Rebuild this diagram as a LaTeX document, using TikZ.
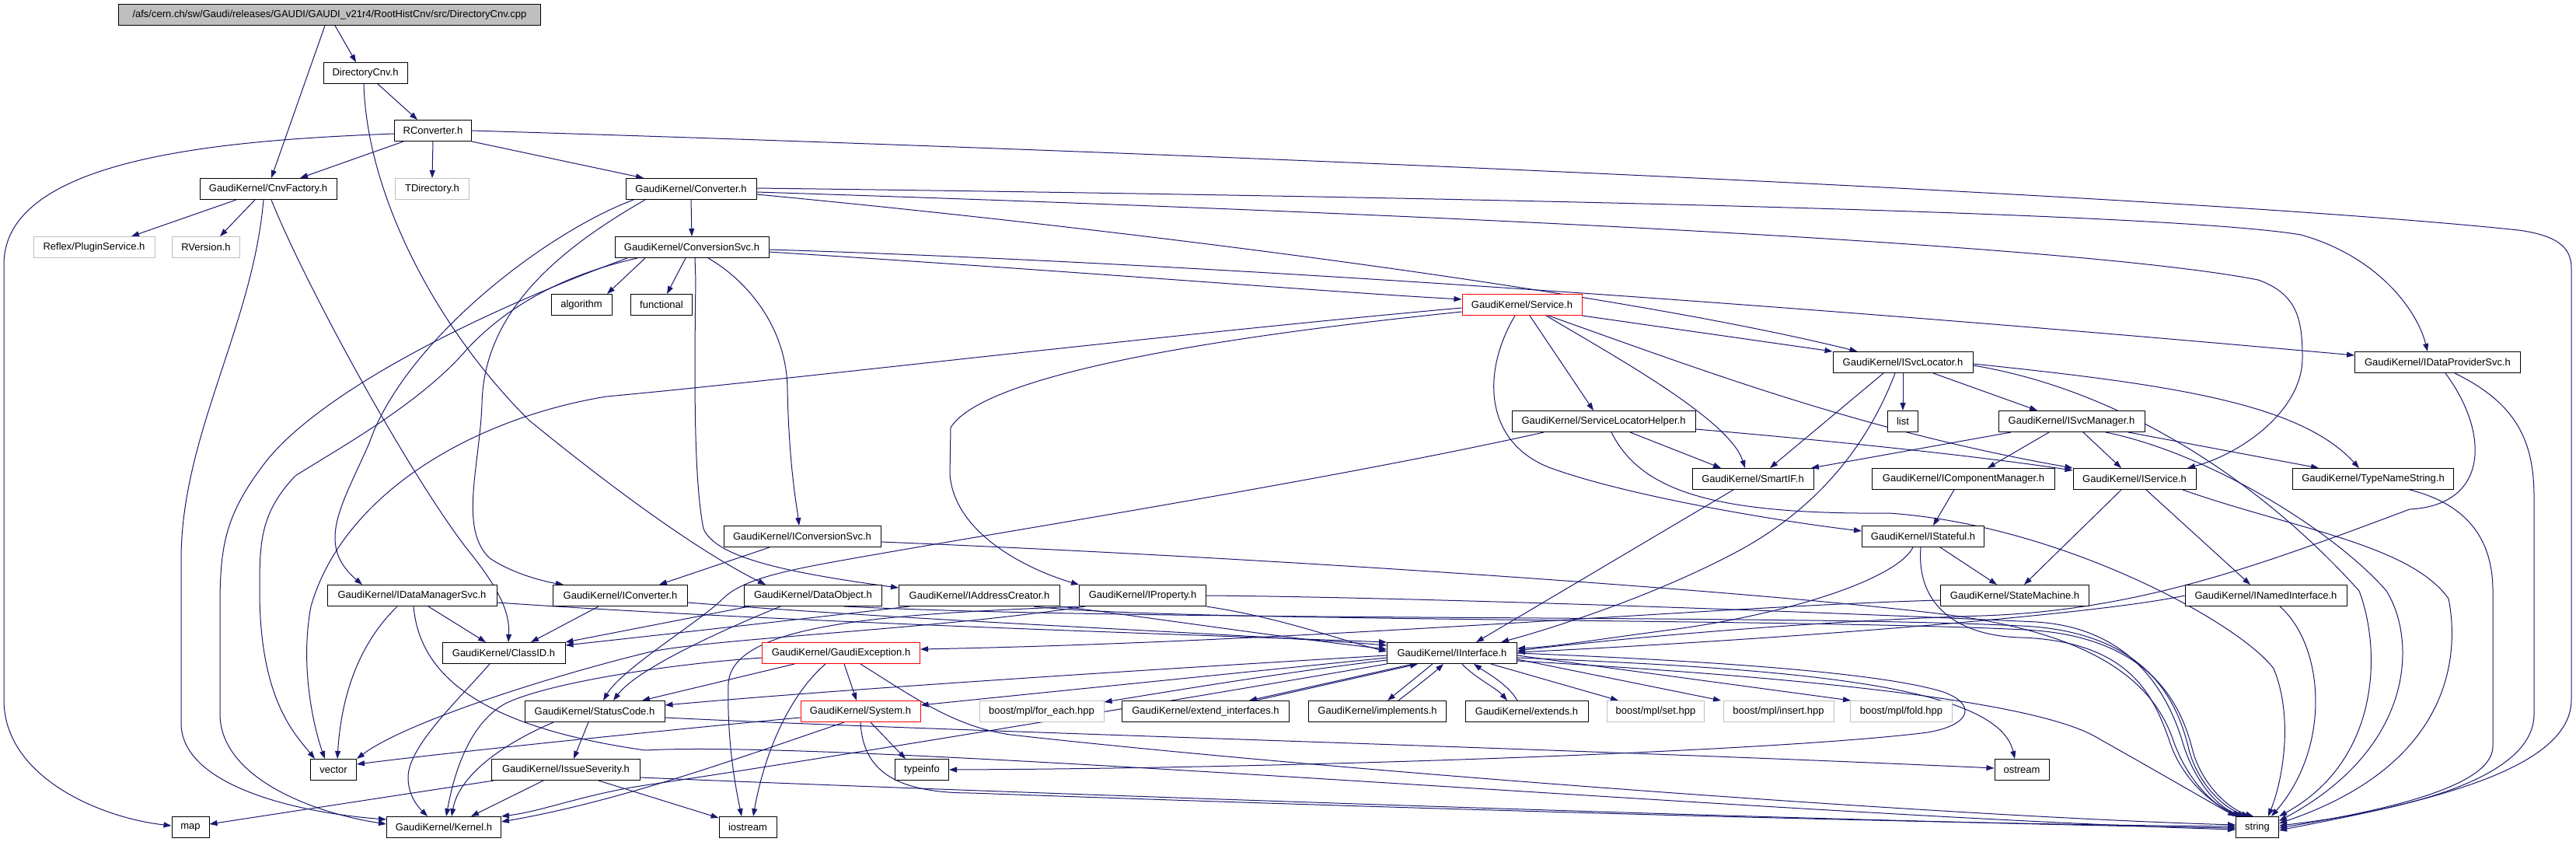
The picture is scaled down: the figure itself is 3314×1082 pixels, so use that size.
\documentclass[tikz,border=0pt]{standalone}
\usepackage{fontspec}
\setmainfont{Liberation Sans}
\usetikzlibrary{arrows.meta}
\definecolor{edgeblue}{HTML}{191970}
\definecolor{boxgray}{HTML}{BFBFBF}
\pgfdeclarelayer{bg}
\pgfsetlayers{bg,main}
\begin{document}
\begin{tikzpicture}[x=1pt,y=-1pt,
  nd/.style={draw=black, fill=white, line width=1pt, minimum height=27pt, inner xsep=2pt, inner ysep=0pt, font=\fontsize{13}{15}\selectfont},
  gnd/.style={nd, draw=boxgray},
  rnd/.style={nd, draw=red},
  dep/.style={draw=edgeblue, line width=1pt, -{Triangle[length=10pt,width=7pt]}}]
\begin{pgfonlayer}{bg}
\fill[white] (0,0) rectangle (3314,1082);
\end{pgfonlayer}
\useasboundingbox (0,0) rectangle (3314,1082);
% nodes
\node[nd, fill=boxgray, minimum width=543pt] (root) at (424,19) {/afs/cern.ch/sw/Gaudi/releases/GAUDI/GAUDI\_v21r4/RootHistCnv/src/DirectoryCnv.cpp};
\node[nd, minimum width=108pt] (dircnv) at (470,94) {DirectoryCnv.h};
\node[nd, minimum width=99pt] (rconv) at (557,168) {RConverter.h};
\node[nd, minimum width=176pt] (cnvfac) at (345,243) {GaudiKernel/CnvFactory.h};
\node[gnd, minimum width=95pt] (tdir) at (556,243) {TDirectory.h};
\node[gnd, minimum width=156pt] (reflex) at (121,318) {Reflex/PluginService.h};
\node[gnd, minimum width=87pt] (rversion) at (265,318) {RVersion.h};
\node[nd, minimum width=168pt] (conv) at (889,243) {GaudiKernel/Converter.h};
\node[nd, minimum width=198pt] (convsvc) at (890,318) {GaudiKernel/ConversionSvc.h};
\node[nd, minimum width=78pt] (algorithm) at (748,392) {algorithm};
\node[nd, minimum width=79pt] (functional) at (851,392) {functional};
\node[rnd, minimum width=154pt] (service) at (1958,392) {GaudiKernel/Service.h};
\node[nd, minimum width=180pt] (isvcloc) at (2448,466) {GaudiKernel/ISvcLocator.h};
\node[nd, minimum width=213pt] (idps) at (3136,466) {GaudiKernel/IDataProviderSvc.h};
\node[nd, minimum width=236pt] (slh) at (2063,542) {GaudiKernel/ServiceLocatorHelper.h};
\node[nd, minimum width=39pt] (list) at (2448,542) {list};
\node[nd, minimum width=188pt] (isvcmgr) at (2665,542) {GaudiKernel/ISvcManager.h};
\node[nd, minimum width=156pt] (smartif) at (2255,616) {GaudiKernel/SmartIF.h};
\node[nd, minimum width=235pt] (icompmgr) at (2526,616) {GaudiKernel/IComponentManager.h};
\node[nd, minimum width=158pt] (iservice) at (2746,616) {GaudiKernel/IService.h};
\node[nd, minimum width=207pt] (tns) at (3053,616) {GaudiKernel/TypeNameString.h};
\node[nd, minimum width=202pt] (iconvsvc) at (1032,690) {GaudiKernel/IConversionSvc.h};
\node[nd, minimum width=157pt] (istateful) at (2474,690) {GaudiKernel/IStateful.h};
\node[nd, minimum width=218pt] (idms) at (530,766) {GaudiKernel/IDataManagerSvc.h};
\node[nd, minimum width=173pt] (iconverter) at (798,766) {GaudiKernel/IConverter.h};
\node[nd, minimum width=177pt] (dataobj) at (1046,766) {GaudiKernel/DataObject.h};
\node[nd, minimum width=207pt] (iaddr) at (1260,766) {GaudiKernel/IAddressCreator.h};
\node[nd, minimum width=163pt] (iprop) at (1470,766) {GaudiKernel/IProperty.h};
\node[nd, minimum width=191pt] (statemach) at (2592,766) {GaudiKernel/StateMachine.h};
\node[nd, minimum width=208pt] (inamed) at (2915,766) {GaudiKernel/INamedInterface.h};
\node[nd, minimum width=158pt] (classid) at (648,840) {GaudiKernel/ClassID.h};
\node[rnd, minimum width=203pt] (gexc) at (1082,840) {GaudiKernel/GaudiException.h};
\node[nd, minimum width=167pt] (iinterface) at (1868,840) {GaudiKernel/IInterface.h};
\node[nd, minimum width=180pt] (statuscode) at (765,915) {GaudiKernel/StatusCode.h};
\node[rnd, minimum width=154pt] (system) at (1107,915) {GaudiKernel/System.h};
\node[gnd, minimum width=160pt] (foreach) at (1340,915) {boost/mpl/for\_each.hpp};
\node[nd, minimum width=215pt] (extif) at (1551,915) {GaudiKernel/extend\_interfaces.h};
\node[nd, minimum width=177pt] (implements) at (1772,915) {GaudiKernel/implements.h};
\node[nd, minimum width=158pt] (extends) at (1964,915) {GaudiKernel/extends.h};
\node[gnd, minimum width=125pt] (mplset) at (2130,915) {boost/mpl/set.hpp};
\node[gnd, minimum width=142pt] (mplinsert) at (2288,915) {boost/mpl/insert.hpp};
\node[gnd, minimum width=131pt] (mplfold) at (2446,915) {boost/mpl/fold.hpp};
\node[nd, minimum width=59pt] (vector) at (429,990) {vector};
\node[nd, minimum width=191pt] (issue) at (728,990) {GaudiKernel/IssueSeverity.h};
\node[nd, minimum width=69pt] (typeinfo) at (1186,990) {typeinfo};
\node[nd, minimum width=70pt] (ostream) at (2601,990) {ostream};
\node[nd, minimum width=48pt] (map) at (245,1064) {map};
\node[nd, minimum width=147pt] (kernel) at (571,1064) {GaudiKernel/Kernel.h};
\node[nd, minimum width=74pt] (iostream) at (962,1064) {iostream};
\node[nd, minimum width=55pt] (string) at (2904,1064) {string};
% edges
\begin{pgfonlayer}{bg}
\draw[dep] ([xshift=7pt]root.south) -- ([xshift=-12pt]dircnv.north);
\draw[dep] ([xshift=-6pt]root.south) -- ([xshift=4pt]cnvfac.north);
\draw[dep] ([xshift=16pt]dircnv.south) -- ([xshift=-20pt]rconv.north);
\draw[dep] ([xshift=-2pt]dircnv.south) .. controls (472,250) and (560,420) .. (680,540) .. controls (790,630) and (900,710) .. ([xshift=-61pt]dataobj.north);
\draw[dep] ([xshift=-38pt]rconv.south) -- ([xshift=41pt]cnvfac.north);
\draw[dep] (rconv.south) -- (tdir.north);
\draw[dep] (rconv.south east) -- ([xshift=-61pt]conv.north);
\draw[dep] ([yshift=-4pt]rconv.west) .. controls (300,180) and (5,200) .. (5,340) -- (5,900) .. controls (5,1000) and (130,1052) .. ([yshift=2pt]map.west);
\draw[dep] (rconv.east) .. controls (1500,195) and (2800,250) .. (3240,296) .. controls (3290,303) and (3308,318) .. (3308,345) -- (3308,900) .. controls (3308,995) and (3100,1035) .. ([yshift=-4pt]string.east);
\draw[dep] ([xshift=-41pt]cnvfac.south) -- ([xshift=48pt]reflex.north);
\draw[dep] ([xshift=-17pt]cnvfac.south) -- ([xshift=18pt]rversion.north);
\draw[dep] ([xshift=-6pt]cnvfac.south) .. controls (325,420) and (233,560) .. (233,720) -- (233,930) .. controls (233,1010) and (380,1045) .. ([yshift=10pt]kernel.west);
\draw[dep] ([xshift=4pt]cnvfac.south) .. controls (390,360) and (520,600) .. (600,705) .. controls (645,760) and (656,790) .. ([xshift=6pt]classid.north);
\draw[dep] (conv.south) -- (convsvc.north);
\draw[dep] ([xshift=-74pt]conv.south) .. controls (700,300) and (520,440) .. (475,570) .. controls (440,650) and (405,700) .. ([xshift=-64pt]idms.north);
\draw[dep] ([xshift=-59pt]conv.south) .. controls (720,320) and (622,400) .. (620,520) .. controls (617,600) and (590,680) .. (630,718) .. controls (660,738) and (700,748) .. ([xshift=-73pt]iconverter.north);
\draw[dep] ([yshift=1pt]conv.east) .. controls (2000,255) and (2800,275) .. (2960,302) .. controls (3060,330) and (3110,400) .. ([xshift=-13pt]idps.north);
\draw[dep] ([yshift=-4pt]conv.east) .. controls (2000,280) and (2700,320) .. (2905,360) .. controls (2955,378) and (2962,410) .. (2962,460) .. controls (2962,530) and (2880,585) .. ([xshift=68pt]iservice.north);
\draw[dep] ([yshift=-7pt]conv.east) .. controls (1500,300) and (2100,380) .. ([xshift=32pt]isvcloc.north west);
\draw[dep] ([xshift=-60pt]convsvc.south) -- ([xshift=33pt]algorithm.north);
\draw[dep] ([xshift=-8pt]convsvc.south) -- ([xshift=7pt]functional.north);
\draw[dep] ([xshift=21pt]convsvc.south) .. controls (960,360) and (1012,420) .. (1013,500) .. controls (1015,600) and (1025,650) .. ([xshift=-4pt]iconvsvc.north);
\draw[dep] ([xshift=4pt]convsvc.south) -- (895,360) .. controls (893,500) and (893,620) .. (905,680) .. controls (920,715) and (1000,735) .. ([yshift=10pt]iaddr.west);
\draw[dep] ([xshift=-70pt]convsvc.south) .. controls (740,350) and (660,385) .. (600,450) .. controls (540,520) and (430,580) .. (380,612) .. controls (334,660) and (334,700) .. (334,760) .. controls (334,900) and (380,945) .. ([xshift=-24pt]vector.north);
\draw[dep] ([xshift=-83pt]convsvc.south) .. controls (620,400) and (420,500) .. (345,590) .. controls (290,660) and (283,700) .. (283,780) -- (283,920) .. controls (285,1000) and (400,1045) .. ([yshift=4pt]kernel.west);
\draw[dep] ([yshift=-6pt]convsvc.east) .. controls (1400,350) and (1700,375) .. ([yshift=7pt]service.west);
\draw[dep] ([yshift=-3pt]convsvc.east) .. controls (1600,340) and (2400,400) .. ([yshift=9pt]idps.west);
\draw[dep] ([yshift=-4pt]service.west) .. controls (1500,430) and (1000,490) .. (780,510) .. controls (600,540) and (440,640) .. (400,780) .. controls (385,860) and (405,940) .. ([xshift=-11pt]vector.north);
\draw[dep] ([yshift=-9pt]service.west) .. controls (1500,440) and (1260,490) .. (1223,550) -- (1222,610) .. controls (1228,690) and (1330,735) .. (iprop.north west);
\draw[dep] ([xshift=10pt]service.south) -- ([xshift=-13pt]slh.north);
\draw[dep] ([xshift=31pt]service.south) .. controls (2080,460) and (2225,540) .. ([xshift=-10pt]smartif.north);
\draw[dep] ([xshift=34pt]service.south) .. controls (2200,480) and (2400,555) .. (iservice.north west);
\draw[dep] (service.south east) -- (isvcloc.north west);
\draw[dep] ([xshift=-9pt]service.south) .. controls (1905,480) and (1910,570) .. (1995,602) .. controls (2100,640) and (2300,672) .. ([yshift=7pt]istateful.west);
\draw[dep] ([xshift=34pt]slh.south) -- ([xshift=-41pt]smartif.north);
\draw[dep] ([yshift=-10pt]slh.east) .. controls (2450,575) and (2600,595) .. ([yshift=-3pt]iservice.north west);
\draw[dep] ([xshift=-77pt]slh.south) .. controls (1700,620) and (1250,690) .. (1060,725) .. controls (990,738) and (950,750) .. (930,770) .. controls (900,800) and (800,860) .. ([xshift=11pt]statuscode.north);
\draw[dep] ([xshift=10pt]slh.south) .. controls (2110,630) and (2200,662) .. (2430,660) .. controls (2650,675) and (2880,800) .. (2925,860) .. controls (2950,920) and (2938,1000) .. ([xshift=14pt]string.north);
\draw[dep] ([xshift=-25pt]isvcloc.south) -- ([xshift=22pt]smartif.north);
\draw[dep] ([xshift=-10pt]isvcloc.south) .. controls (2400,580) and (2330,660) .. (2230,712) .. controls (2120,770) and (1990,810) .. ([xshift=63pt]iinterface.north);
\draw[dep] (isvcloc.south) -- (list.north);
\draw[dep] ([xshift=39pt]isvcloc.south) -- ([xshift=-44pt]isvcmgr.north);
\draw[dep] ([yshift=-4pt]isvcloc.east) .. controls (2720,500) and (2900,610) .. (3035,760) .. controls (3065,840) and (3060,980) .. (string.north east);
\draw[dep] ([yshift=-2pt]isvcloc.east) .. controls (2800,495) and (2960,520) .. ([xshift=-18pt]tns.north);
\draw[dep] ([xshift=-78pt]isvcmgr.south) -- ([xshift=75pt]smartif.north);
\draw[dep] ([xshift=-29pt]isvcmgr.south) -- ([xshift=31pt]icompmgr.north);
\draw[dep] ([xshift=15pt]isvcmgr.south) -- ([xshift=-17pt]iservice.north);
\draw[dep] ([xshift=73pt]isvcmgr.south) -- ([xshift=-70pt]tns.north);
\draw[dep] ([xshift=44pt]isvcmgr.south) .. controls (2850,585) and (3010,690) .. (3070,760) .. controls (3108,820) and (3110,960) .. ([yshift=8pt]string.east);
\draw[dep] ([xshift=62pt]iservice.south) .. controls (2950,680) and (3100,700) .. (3150,770) .. controls (3162,830) and (3165,980) .. ([yshift=5pt]string.east);
\draw[dep] ([xshift=47pt]tns.south) .. controls (3180,650) and (3207,700) .. (3207,760) -- (3207,960) .. controls (3207,1015) and (3050,1045) .. ([yshift=-1pt]string.east);
\draw[dep] ([xshift=10pt]idps.south) .. controls (3205,560) and (3200,650) .. (3100,655) .. controls (2900,730) and (2750,785) .. (2550,792) .. controls (2300,800) and (2050,825) .. ([yshift=3pt]iinterface.east);
\draw[dep] ([xshift=22pt]idps.south) .. controls (3240,520) and (3260,570) .. (3260,640) -- (3260,920) .. controls (3258,1000) and (3100,1042) .. ([yshift=2pt]string.east);
\draw[dep] ([xshift=22pt]istateful.south) -- ([xshift=-23pt]statemach.north);
\draw[dep] ([xshift=-13pt]istateful.south) .. controls (2440,745) and (2300,790) .. (2150,810) .. controls (2050,823) and (2000,832) .. ([yshift=6pt]iinterface.east);
\draw[dep] ([xshift=-3pt]istateful.south) .. controls (2465,780) and (2520,818) .. (2600,820) .. controls (2740,825) and (2770,895) .. (2790,950) .. controls (2805,1000) and (2845,1035) .. ([xshift=-20pt]string.north);
\draw[dep] ([xshift=-12pt]icompmgr.south) -- ([xshift=13pt]istateful.north);
\draw[dep] ([xshift=-17pt]iservice.south) -- ([xshift=12pt]statemach.north);
\draw[dep] ([xshift=15pt]iservice.south) -- ([xshift=-20pt]inamed.north);
\draw[dep] ([yshift=-6pt]statemach.west) .. controls (2200,780) and (1700,825) .. ([yshift=5pt]gexc.east);
\draw[dep] (inamed.west) .. controls (2700,790) and (2300,822) .. ([yshift=1pt]iinterface.east);
\draw[dep] ([xshift=18pt]inamed.south) .. controls (2990,830) and (3000,960) .. ([xshift=18pt]string.north);
\draw[dep] ([yshift=-3pt]iinterface.west) .. controls (1500,860) and (1100,885) .. ([yshift=8pt]statuscode.east);
\draw[dep] ([yshift=-6pt]iinterface.west) .. controls (1550,870) and (1300,895) .. ([yshift=8pt]system.east);
\draw[dep] ([yshift=-9pt]iinterface.west) .. controls (1650,865) and (1500,890) .. ([yshift=12pt]foreach.east);
\draw[dep] ([xshift=-50pt]iinterface.south) -- ([xshift=56pt]extif.north);
\draw[dep] ([xshift=64pt]extif.north) -- ([xshift=-44pt]iinterface.south);
\draw[dep] ([xshift=-25pt]iinterface.south) -- ([xshift=13pt]implements.north);
\draw[dep] ([xshift=27pt]implements.north) .. controls (1820,885) and (1845,865) .. ([xshift=-11pt]iinterface.south);
\draw[dep] ([xshift=13pt]iinterface.south) .. controls (1895,870) and (1925,885) .. ([xshift=-25pt]extends.north);
\draw[dep] ([xshift=-12pt]extends.north) .. controls (1940,880) and (1912,865) .. ([xshift=28pt]iinterface.south);
\draw[dep] ([xshift=50pt]iinterface.south) -- ([xshift=-48pt]mplset.north);
\draw[dep] ([yshift=-8pt]iinterface.east) -- ([xshift=-74pt]mplinsert.north);
\draw[dep] ([yshift=-3pt]iinterface.east) -- ([xshift=-65pt]mplfold.north);
\draw[dep] (iinterface.east) .. controls (2200,850) and (2420,865) .. (2500,890) .. controls (2542,905) and (2538,932) .. (2480,942) .. controls (2300,965) and (1700,988) .. (typeinfo.east);
\draw[dep] ([yshift=-6pt]iinterface.east) .. controls (2300,860) and (2570,880) .. ([xshift=-9pt]ostream.north);
\draw[dep] ([yshift=-10pt]iinterface.east) .. controls (2300,870) and (2620,900) .. (2700,950) .. controls (2780,995) and (2840,1030) .. (string.north west);
\draw[dep] (iinterface.south west) .. controls (1400,920) and (1000,985) .. (830,1010) .. controls (750,1022) and (700,1043) .. ([yshift=14pt]kernel.east);
\draw[dep] ([xshift=-21pt]system.south) .. controls (950,975) and (800,1030) .. ([yshift=7pt]kernel.east);
\draw[dep] ([yshift=-8pt]system.west) .. controls (900,935) and (600,965) .. ([yshift=7pt]vector.east);
\draw[dep] ([xshift=13pt]system.south) -- ([xshift=-21pt]typeinfo.north);
\draw[dep] (system.south) .. controls (1110,990) and (1150,1020) .. (1250,1020) .. controls (1800,1040) and (2500,1060) .. ([yshift=1pt]string.west);
\draw[dep] ([xshift=-60pt]gexc.south) -- ([xshift=61pt]statuscode.north);
\draw[dep] ([xshift=4pt]gexc.south) -- ([xshift=-5pt]system.north);
\draw[dep] ([xshift=-20pt]gexc.south) .. controls (1020,890) and (985,960) .. ([xshift=7pt]iostream.north);
\draw[dep] ([yshift=-6pt]gexc.west) .. controls (850,855) and (700,880) .. (650,905) .. controls (605,930) and (585,990) .. ([xshift=3pt]kernel.north);
\draw[dep] ([xshift=25pt]gexc.south) .. controls (1180,900) and (1230,935) .. (1300,945) .. controls (1700,990) and (2500,1050) .. ([yshift=3pt]string.west);
\draw[dep] ([xshift=-8pt]statuscode.south) -- ([xshift=10pt]issue.north);
\draw[dep] ([xshift=-53pt]statuscode.south) .. controls (640,960) and (590,1000) .. ([xshift=10pt]kernel.north);
\draw[dep] ([yshift=-8pt]statuscode.east) .. controls (1200,940) and (2000,962) .. ([yshift=2pt]ostream.west);
\draw[dep] ([xshift=-29pt]issue.south) -- ([xshift=35pt]kernel.north);
\draw[dep] ([xshift=-93pt]issue.south) -- ([yshift=4pt]map.east);
\draw[dep] ([xshift=42pt]issue.south) -- ([yshift=12pt]iostream.west);
\draw[dep] ([yshift=-10pt]issue.east) .. controls (1300,1020) and (2400,1058) .. ([yshift=-1pt]string.west);
\draw[dep] ([xshift=-18pt]classid.south) .. controls (590,900) and (525,960) .. (525,1000) .. controls (525,1025) and (540,1040) .. ([xshift=-21pt]kernel.north);
\draw[dep] ([xshift=-19pt]idms.south) .. controls (470,820) and (440,880) .. ([xshift=5pt]vector.north);
\draw[dep] ([xshift=21pt]idms.south) -- ([xshift=-23pt]classid.north);
\draw[dep] ([yshift=-9pt]idms.east) .. controls (1000,800) and (1500,815) .. (iinterface.north west);
\draw[dep] ([xshift=2pt]idms.south) .. controls (540,870) and (620,935) .. (830,965) .. controls (1100,950) and (2300,1050) .. ([yshift=-3pt]string.west);
\draw[dep] ([xshift=-28pt]iconverter.south) -- ([xshift=35pt]classid.north);
\draw[dep] ([yshift=-9pt]iconverter.east) .. controls (1200,800) and (1600,815) .. ([yshift=10pt]iinterface.west);
\draw[dep] ([xshift=-82pt]dataobj.south) -- (classid.north east);
\draw[dep] ([xshift=-42pt]dataobj.south) .. controls (930,810) and (820,860) .. ([xshift=24pt]statuscode.north);
\draw[dep] ([xshift=40pt]dataobj.south) .. controls (1500,800) and (2300,790) .. (2600,805) .. controls (2760,812) and (2800,900) .. (2815,960) .. controls (2825,1005) and (2860,1040) .. ([xshift=-10pt]string.north);
\draw[dep] ([xshift=-90pt]iaddr.south) .. controls (1000,800) and (800,822) .. ([yshift=10pt]classid.east);
\draw[dep] (iaddr.south east) .. controls (1450,790) and (1650,820) .. ([yshift=5pt]iinterface.west);
\draw[dep] ([xshift=70pt]iaddr.south) .. controls (1500,800) and (2300,795) .. (2605,810) .. controls (2765,818) and (2805,905) .. (2820,962) .. controls (2830,1005) and (2865,1040) .. ([xshift=-5pt]string.north);
\draw[dep] (iprop.south east) .. controls (1650,795) and (1720,822) .. ([yshift=2pt]iinterface.west);
\draw[dep] (iprop.east) .. controls (1800,768) and (2300,785) .. (2620,800) .. controls (2745,808) and (2790,895) .. (2808,955) .. controls (2822,1002) and (2852,1040) .. ([xshift=-15pt]string.north);
\draw[dep] (iprop.south west) .. controls (1150,790) and (940,800) .. (937,880) .. controls (935,960) and (948,1020) .. ([xshift=-8pt]iostream.north);
\draw[dep] ([xshift=8pt]iprop.south west) .. controls (1200,810) and (900,822) .. (830,840) .. controls (700,872) and (520,930) .. (vector.north east);
\draw[dep] ([xshift=-42pt]iconvsvc.south) -- ([xshift=50pt]iconverter.north);
\draw[dep] ([yshift=-7pt]iconvsvc.east) .. controls (1700,720) and (2300,765) .. (2500,790) .. controls (2700,815) and (2770,880) .. (2795,950) .. controls (2812,1000) and (2845,1035) .. ([xshift=-22pt]string.north);
\draw[dep] ([xshift=-25pt]smartif.south) -- ([xshift=31pt]iinterface.north);
\end{pgfonlayer}
\end{tikzpicture}
\end{document}
